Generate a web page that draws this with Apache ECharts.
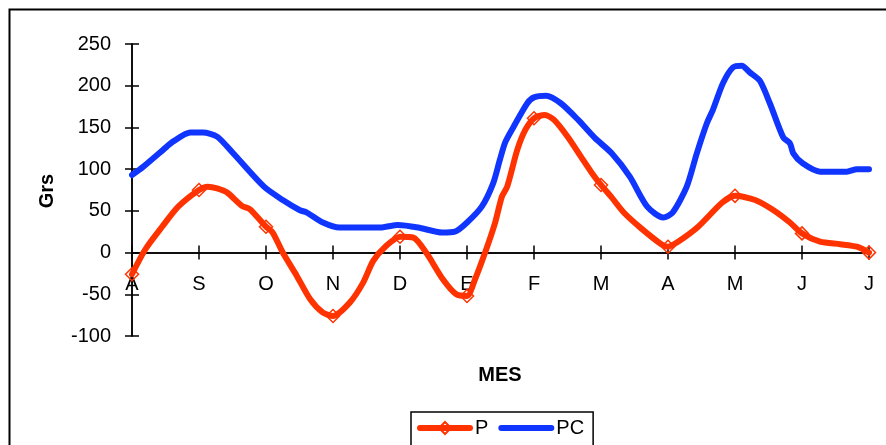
<!DOCTYPE html>
<html>
<head>
<meta charset="utf-8">
<style>
  html, body { margin: 0; padding: 0; background: #fff; }
  #chart { width: 886px; height: 445px; }
</style>
<script src="https://cdn.jsdelivr.net/npm/echarts@6/dist/echarts.min.js"></script>
</head>
<body>
<div id="chart"></div>
<script>
// Month labels along the x axis (August .. July)
const months = ['A', 'S', 'O', 'N', 'D', 'E', 'F', 'M', 'A', 'M', 'J', 'J'];

// P series: position in months from the start, and value (grams)
const pPos = [0, 0.2, 0.45, 0.69, 1, 1.13, 1.27, 1.42, 1.64, 1.76, 2, 2.1, 2.25, 2.46, 2.66,
  2.85, 3, 3.25, 3.45, 3.6, 3.78, 4, 4.2, 4.39, 4.64, 4.84, 5, 5.12, 5.27, 5.42,
  5.52, 5.6, 5.75, 5.87, 6, 6.16, 6.3, 6.51, 6.7, 6.85, 7, 7.15, 7.34, 7.6, 7.9,
  8, 8.15, 8.45, 8.81, 9, 9.3, 9.57, 9.82, 10, 10.27, 10.57, 10.82, 11];
const pVal = [-26, 4, 31, 55, 75, 79, 77, 72, 56, 52, 31, 24, 0, -28, -56,
  -72, -76, -60, -36, -10, 7, 19, 18, 0, -32, -50, -52, -32, 0, 36,
  67, 79, 123, 147, 161, 165, 159, 138, 115, 97, 81, 67, 48, 29, 10,
  7, 13, 31, 60, 68, 63, 51, 36, 23, 13, 10, 7, 0];

// PC series
const pcPos = [0, 0.17, 0.52, 0.61, 0.87, 1.06, 1.27, 1.51, 1.97, 2.25, 2.5, 2.61, 2.85, 3.1, 3.7,
  3.97, 4.27, 4.63, 4.82, 5, 5.22, 5.39, 5.49, 5.57, 5.69, 5.9, 6, 6.18, 6.4, 6.66,
  6.9, 7.16, 7.43, 7.69, 7.93, 8.07, 8.28, 8.43, 8.58, 8.67, 8.82, 8.97, 9.1, 9.22, 9.37,
  9.52, 9.72, 9.82, 9.87, 10.01, 10.27, 10.67, 10.82, 11];
const pcVal = [93, 103, 127, 133, 144, 144, 139, 119, 79, 63, 51, 48, 36, 30, 30,
  33, 30, 24, 25, 36, 55, 83, 111, 132, 150, 179, 186, 188, 179, 159,
  138, 119, 91, 55, 42, 48, 79, 119, 155, 171, 203, 222, 224, 216, 206,
  179, 138, 131, 119, 107, 97, 97, 100, 100];

const yTicks = { min: -100, max: 250, step: 50 };

const RED = '#ff3300';
const BLUE = '#1035ff';
const FONT = 'Liberation Sans, Arial, sans-serif';

// plot box
const GRID = { left: 132, right: 17, top: 44, bottom: 109 };
const plotH = 445 - GRID.top - GRID.bottom;
// lift the month axis from the bottom of the plot up to the zero line
const zeroOffset = -plotH * (0 - yTicks.min) / (yTicks.max - yTicks.min);

// markers only on the monthly readings
const pData = pPos.map((x, i) => ({
  value: [x, pVal[i]],
  symbol: Number.isInteger(x) ? 'diamond' : 'none'
}));
const pcData = pcPos.map((x, i) => [x, pcVal[i]]);

const axisLine = { lineStyle: { color: '#000', width: 1.5 } };
const tickStyle = { lineStyle: { color: '#000', width: 1.5 }, length: 7 };

const chart = echarts.init(document.getElementById('chart'), null, { renderer: 'canvas' });
chart.setOption({
  animation: false,
  backgroundColor: '#fff',
  textStyle: { fontFamily: FONT },
  grid: Object.assign({ containLabel: false }, GRID),
  xAxis: [
    {
      type: 'value', min: 0, max: 11, interval: 1, position: 'bottom', offset: zeroOffset,
      axisLine: Object.assign({ onZero: false }, axisLine),
      axisTick: Object.assign({ inside: false }, tickStyle),
      axisLabel: {
        margin: 22, color: '#000', fontSize: 20, fontFamily: FONT,
        formatter: v => months[Math.round(v)] || ''
      },
      splitLine: { show: false }
    },
    {
      type: 'value', min: 0, max: 11, interval: 1, position: 'bottom', offset: zeroOffset,
      axisLine: Object.assign({ onZero: false }, axisLine),
      axisTick: Object.assign({ inside: true }, tickStyle),
      axisLabel: { show: false },
      splitLine: { show: false }
    }
  ],
  yAxis: [
    {
      type: 'value', min: yTicks.min, max: yTicks.max, interval: yTicks.step,
      axisLine: Object.assign({ show: true, onZero: false }, axisLine),
      axisTick: Object.assign({ show: true, inside: false }, tickStyle),
      axisLabel: { margin: 21, color: '#000', fontSize: 20, fontFamily: FONT },
      splitLine: { show: false }
    },
    {
      type: 'value', min: yTicks.min, max: yTicks.max, interval: yTicks.step, position: 'left',
      axisLine: Object.assign({ show: true, onZero: false }, axisLine),
      axisTick: Object.assign({ show: true, inside: true }, tickStyle),
      axisLabel: { show: false },
      splitLine: { show: false }
    }
  ],
  legend: {
    left: 411, top: 412,
    orient: 'horizontal',
    padding: [6, 9, 14, 6],
    itemGap: 10,
    itemWidth: 50, itemHeight: 15,
    borderColor: '#000', borderWidth: 1.5,
    backgroundColor: '#fff',
    lineStyle: { width: 6 },
    textStyle: { color: '#000', fontSize: 20, fontFamily: FONT },
    data: [
      { name: 'P' },
      { name: 'PC', itemStyle: { opacity: 0 } }
    ]
  },
  graphic: [
    {
      type: 'rect', silent: true, z: -1,
      shape: { x: 9.5, y: 9.5, width: 900, height: 460 },
      style: { fill: 'none', stroke: '#000', lineWidth: 2 }
    },
    {
      type: 'text', rotation: Math.PI / 2, x: 47, y: 191,
      style: { text: 'Grs', fill: '#000', font: 'bold 20px ' + FONT, textAlign: 'center', textVerticalAlign: 'middle' }
    },
    {
      type: 'text', x: 500, y: 375,
      style: { text: 'MES', fill: '#000', font: 'bold 20px ' + FONT, textAlign: 'center', textVerticalAlign: 'middle' }
    }
  ],
  series: [
    {
      name: 'P', type: 'line', data: pData,
      xAxisIndex: 0, yAxisIndex: 0,
      smooth: 0.25, showAllSymbol: true,
      symbol: 'diamond', symbolSize: 13,
      lineStyle: { color: RED, width: 6, cap: 'round', join: 'round' },
      itemStyle: { color: 'rgba(255,255,255,0)', borderColor: RED, borderWidth: 1.5 },
      z: 3
    },
    {
      name: 'PC', type: 'line', data: pcData,
      xAxisIndex: 0, yAxisIndex: 0,
      smooth: 0.25, symbol: 'none',
      lineStyle: { color: BLUE, width: 6, cap: 'round', join: 'round' },
      itemStyle: { color: BLUE },
      z: 2
    }
  ]
});
</script>
</body>
</html>
